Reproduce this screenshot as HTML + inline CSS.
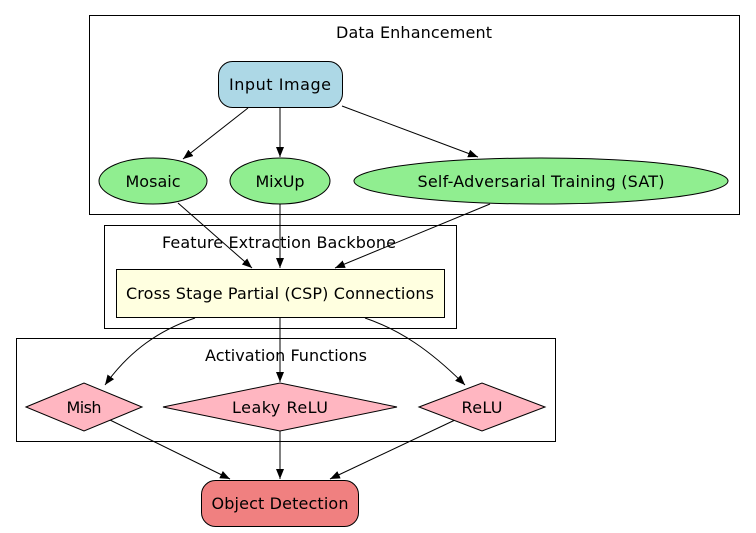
<!DOCTYPE html>
<html><head><style>
html,body{margin:0;padding:0;background:#fff;}
svg{display:block;font-family:"DejaVu Sans","Liberation Sans",sans-serif;font-size:16px;}
</style></head><body>
<svg width="756" height="533" viewBox="0 0 756 533" xmlns="http://www.w3.org/2000/svg">
<defs>
<marker id="a" markerWidth="10" markerHeight="8" refX="10" refY="4" orient="auto" markerUnits="userSpaceOnUse">
<path d="M0,0 L10,4 L0,8 Z" fill="#000"/>
</marker>
</defs>
<g fill="none" stroke="#000" stroke-width="1">
<rect x="89.5" y="15.5" width="650" height="199"/>
<rect x="104.5" y="225.5" width="352" height="103"/>
<rect x="16.5" y="338.5" width="539" height="103"/>
</g>
<g text-anchor="middle" fill="#000">
<text x="414" y="38" textLength="156">Data Enhancement</text>
<text x="279" y="248" textLength="234">Feature Extraction Backbone</text>
<text x="286" y="361" textLength="162">Activation Functions</text>
</g>
<g stroke="#000" fill="none" marker-end="url(#a)">
<line x1="248" y1="108" x2="183" y2="159"/>
<line x1="280" y1="108" x2="280" y2="157"/>
<line x1="342" y1="106" x2="478" y2="157"/>
<line x1="178" y1="203" x2="252" y2="268"/>
<line x1="280" y1="204" x2="280" y2="268"/>
<line x1="490" y1="204" x2="335" y2="268"/>
<path d="M195,318 C160,330 130,350 105,385"/>
<line x1="280" y1="318" x2="280" y2="382"/>
<path d="M365,318 C400,330 430,350 465,385"/>
<line x1="110" y1="420" x2="230" y2="479"/>
<line x1="280" y1="431" x2="280" y2="479"/>
<line x1="455" y1="420" x2="330" y2="479"/>
</g>
<g stroke="#000" stroke-width="1">
<rect x="218.5" y="61.5" width="124" height="46" rx="14" fill="#add8e6"/>
<ellipse cx="153" cy="181" rx="54" ry="23" fill="#90ee90"/>
<ellipse cx="280" cy="181" rx="50" ry="23" fill="#90ee90"/>
<ellipse cx="541" cy="181" rx="187" ry="23" fill="#90ee90"/>
<rect x="116.5" y="269.5" width="328" height="48" fill="#ffffe0"/>
<polygon points="26,407 84,383 142,407 84,431" fill="#ffb6c1"/>
<polygon points="163,407 280,383 397,407 280,431" fill="#ffb6c1"/>
<polygon points="419,407 482,383 545,407 482,431" fill="#ffb6c1"/>
<rect x="201.5" y="480.5" width="157" height="46" rx="14" fill="#f08080"/>
</g>
<g text-anchor="middle" fill="#000">
<text x="280" y="90" textLength="102">Input Image</text>
<text x="153" y="187" textLength="55">Mosaic</text>
<text x="280" y="187" textLength="49">MixUp</text>
<text x="541" y="187" textLength="247">Self-Adversarial Training (SAT)</text>
<text x="280" y="299" textLength="308">Cross Stage Partial (CSP) Connections</text>
<text x="84" y="413" textLength="35">Mish</text>
<text x="280" y="413" textLength="96">Leaky ReLU</text>
<text x="482" y="413" textLength="41">ReLU</text>
<text x="280" y="509" textLength="137">Object Detection</text>
</g>
</svg>
</body></html>
